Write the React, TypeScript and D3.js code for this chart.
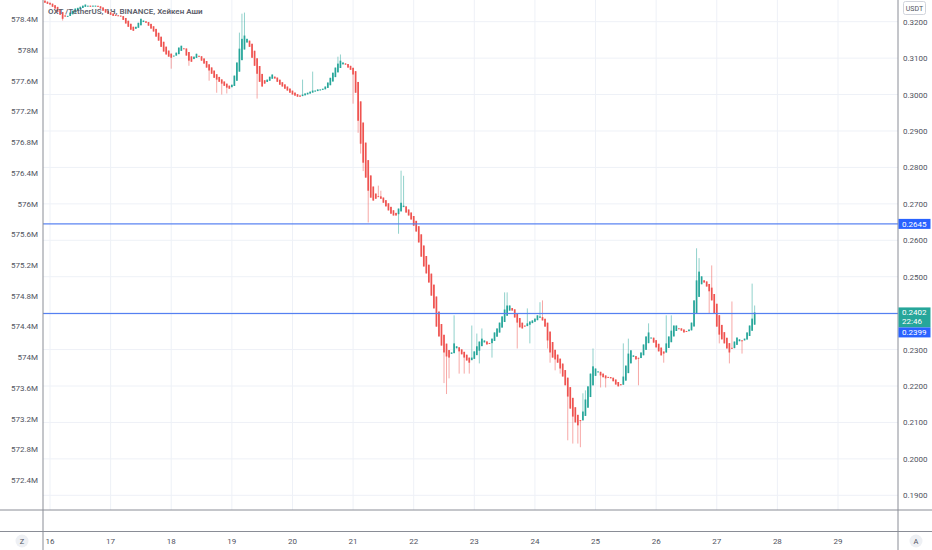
import React from 'react';
import * as d3 from 'd3';

// ---------- DATA ----------
const title = 'OXT /TetherUS, 1Ч, BINANCE, Хейкен Аши';
const currency = 'USDT';
const dayLabels = ['16', '17', '18', '19', '20', '21', '22', '23', '24', '25', '26', '27', '28', '29'];
// first candle is 2 hours before day 16 00:00 (hourly candles)
const firstHourOffset = -2;
const firstOpen = 0.3258;

// Heikin Ashi close per hourly candle
const haCloses = [
  0.3252, 0.3249, 0.3247, 0.3241, 0.3236, 0.3227, 0.3219, 0.3208, 0.3214, 0.3216,
  0.3225, 0.3230, 0.3236, 0.3238, 0.3241, 0.3244, 0.3247, 0.3244, 0.3241, 0.3244,
  0.3244, 0.3241, 0.3236, 0.3230, 0.3225, 0.3222, 0.3219, 0.3216, 0.3216, 0.3216,
  0.3214, 0.3205, 0.3195, 0.3186, 0.3178, 0.3175, 0.3186, 0.3197, 0.3208, 0.3203,
  0.3197, 0.3189, 0.3181, 0.3173, 0.3159, 0.3148, 0.3131, 0.3118, 0.3110, 0.3104,
  0.3101, 0.3107, 0.3115, 0.3129, 0.3134, 0.3126, 0.3107, 0.3093, 0.3090, 0.3104,
  0.3112, 0.3104, 0.3093, 0.3085, 0.3074, 0.3066, 0.3057, 0.3046, 0.3041, 0.3035,
  0.3030, 0.3024, 0.3019, 0.3016, 0.3027, 0.3052, 0.3088, 0.3126, 0.3153, 0.3162,
  0.3153, 0.3131, 0.3101, 0.3079, 0.3057, 0.3035, 0.3022, 0.3030, 0.3041, 0.3049,
  0.3055, 0.3044, 0.3035, 0.3027, 0.3022, 0.3016, 0.3011, 0.3005, 0.3000, 0.2997,
  0.2994, 0.2994, 0.3000, 0.3003, 0.3005, 0.3008, 0.3011, 0.3011, 0.3014, 0.3014,
  0.3016, 0.3022, 0.3033, 0.3046, 0.3060, 0.3074, 0.3085, 0.3093, 0.3088, 0.3082,
  0.3074, 0.3068, 0.3055, 0.3005, 0.2928, 0.2865, 0.2813, 0.2772, 0.2736, 0.2717,
  0.2709, 0.2714, 0.2720, 0.2714, 0.2703, 0.2693, 0.2682, 0.2673, 0.2668, 0.2668,
  0.2687, 0.2703, 0.2695, 0.2676, 0.2668, 0.2657, 0.2640, 0.2624, 0.2594, 0.2555,
  0.2528, 0.2509, 0.2484, 0.2448, 0.2413, 0.2363, 0.2336, 0.2311, 0.2292, 0.2281,
  0.2278, 0.2292, 0.2317, 0.2309, 0.2295, 0.2287, 0.2278, 0.2270, 0.2264, 0.2278,
  0.2295, 0.2309, 0.2322, 0.2330, 0.2325, 0.2314, 0.2317, 0.2330, 0.2347, 0.2358,
  0.2374, 0.2391, 0.2410, 0.2421, 0.2421, 0.2407, 0.2388, 0.2374, 0.2361, 0.2358,
  0.2363, 0.2372, 0.2377, 0.2380, 0.2385, 0.2394, 0.2391, 0.2380, 0.2363, 0.2325,
  0.2292, 0.2278, 0.2273, 0.2264, 0.2248, 0.2226, 0.2202, 0.2171, 0.2138, 0.2116,
  0.2100, 0.2092, 0.2105, 0.2130, 0.2163, 0.2199, 0.2234, 0.2254, 0.2248, 0.2240,
  0.2229, 0.2224, 0.2221, 0.2224, 0.2221, 0.2213, 0.2204, 0.2199, 0.2202, 0.2226,
  0.2256, 0.2289, 0.2298, 0.2284, 0.2273, 0.2276, 0.2292, 0.2314, 0.2336, 0.2347,
  0.2333, 0.2319, 0.2306, 0.2295, 0.2284, 0.2289, 0.2317, 0.2336, 0.2352, 0.2366,
  0.2366, 0.2358, 0.2352, 0.2347, 0.2350, 0.2355, 0.2374, 0.2435, 0.2490, 0.2514,
  0.2501, 0.2484, 0.2473, 0.2460, 0.2435, 0.2399, 0.2363, 0.2341, 0.2328, 0.2317,
  0.2303, 0.2292, 0.2303, 0.2322, 0.2333, 0.2328, 0.2325, 0.2330, 0.2347, 0.2366,
  0.2385, 0.2402,
];

// notable wick extremes: [candle index, price]
const wickHighs: [number, number][] = [
  [77, 0.3170], [78, 0.3222], [79, 0.3225], [102, 0.3041], [106, 0.3063], [116, 0.3104],
  [117, 0.3110], [132, 0.2750], [133, 0.2736], [141, 0.2791], [142, 0.2777], [162, 0.2394],
  [169, 0.2366], [171, 0.2344], [173, 0.2358], [182, 0.2457], [183, 0.2457], [191, 0.2413],
  [196, 0.2430], [197, 0.2435], [213, 0.2180], [214, 0.2188], [217, 0.2303], [229, 0.2317],
  [231, 0.2330], [239, 0.2372], [246, 0.2394], [248, 0.2394], [258, 0.2578], [259, 0.2551],
  [264, 0.2531], [272, 0.2432], [280, 0.2481], [281, 0.2421],
];
const wickLows: [number, number][] = [
  [7, 0.3203], [50, 0.3071], [57, 0.3079], [65, 0.3038], [68, 0.3005], [70, 0.3000],
  [72, 0.3003], [84, 0.2989], [122, 0.2975], [124, 0.2895], [125, 0.2838], [126, 0.2790],
  [128, 0.2649], [140, 0.2618], [148, 0.2599], [158, 0.2208], [159, 0.2178], [160, 0.2221],
  [164, 0.2234], [166, 0.2234], [168, 0.2234], [172, 0.2262], [177, 0.2278], [187, 0.2303],
  [192, 0.2317], [199, 0.2303], [200, 0.2264], [202, 0.2243], [204, 0.2234], [207, 0.2051],
  [209, 0.2042], [211, 0.2042], [212, 0.2032], [220, 0.2196], [222, 0.2196], [235, 0.2202],
  [245, 0.2264], [263, 0.2399], [267, 0.2317], [271, 0.2262], [276, 0.2289],
];

const priceTicks = [0.32, 0.31, 0.30, 0.29, 0.28, 0.27, 0.26, 0.25, 0.24, 0.23, 0.22, 0.21, 0.20, 0.19];
const hiddenPriceLabels = [0.24];
const leftTicks = [578.4, 578.0, 577.6, 577.2, 576.8, 576.4, 576.0, 575.6, 575.2, 574.8, 574.4, 574.0, 573.6, 573.2, 572.8, 572.4];
const levelLines = [0.2645, 0.2399];
const lastPrice = 0.2402;
const countdown = '22:46';

// ---------- STYLE ----------
const W = 932;
const H = 550;
const UP = '#26a69a';
const DOWN = '#ef5350';
const BLUE = '#2962ff';
const LEVEL = '#5580f2';
const FONT = 'Roboto, "Noto Sans", sans-serif';
const TEXT = '#50535e';
const GRID = '#eef1f7';
const BORDER = '#8a8d96';

const plotLeft = 43;
const plotRight = 898;
const plotBottom = 510;
const paneBottom = 531.5;

export default function App() {
  const x = d3.scaleLinear().domain([0, 13 * 24]).range([50, 838]);
  const y = d3.scaleLinear().domain([0.19, 0.32]).range([495.3, 21.7]);
  const yLeft = d3.scaleLinear().domain([572.4, 578.4]).range([480, 19.3]);

  const hiMap = new Map(wickHighs);
  const loMap = new Map(wickLows);
  const candles: { i: number; o: number; c: number; h: number; l: number }[] = [];
  let po = firstOpen;
  let pc = firstOpen;
  haCloses.forEach((c, i) => {
    const o = i === 0 ? firstOpen : (po + pc) / 2;
    const h = Math.max(o, c, hiMap.get(i) ?? -Infinity);
    const l = Math.min(o, c, loMap.get(i) ?? Infinity);
    candles.push({ i, o, c, h, l });
    po = o;
    pc = c;
  });

  const bodyW = 1.7;
  const leftFmt = (v: number) => `${+v.toFixed(1)}M`;

  return (
    <svg width={W} height={H} style={{ position: 'absolute', left: 0, top: 0, background: '#fff' }} fontFamily={FONT}>
      <defs>
        <clipPath id="plot">
          <rect x={plotLeft} y={0} width={plotRight - plotLeft} height={plotBottom} />
        </clipPath>
      </defs>
      <rect width={W} height={H} fill="#fff" />
      {/* grid */}
      <g>
        {priceTicks.map((t) => (
          <line key={'h' + t} x1={plotLeft} x2={plotRight} y1={y(t)} y2={y(t)} stroke={GRID} strokeWidth={1} />
        ))}
        {dayLabels.map((d, k) => (
          <line key={'v' + d} x1={x(k * 24)} x2={x(k * 24)} y1={0} y2={plotBottom} stroke={GRID} strokeWidth={1} />
        ))}
      </g>
      {/* candles */}
      <g clipPath="url(#plot)">
        {candles.map((cd) => {
          const cx = x(cd.i + firstHourOffset);
          const col = cd.c >= cd.o ? UP : DOWN;
          const top = y(Math.max(cd.o, cd.c));
          const bot = y(Math.min(cd.o, cd.c));
          return (
            <g key={cd.i}>
              <line x1={cx} x2={cx} y1={y(cd.h)} y2={y(cd.l)} stroke={col} strokeOpacity={0.5} strokeWidth={1} />
              <rect x={cx - bodyW / 2} y={top} width={bodyW} height={Math.max(1, bot - top)} fill={col} />
            </g>
          );
        })}
      </g>
      {/* horizontal level lines */}
      {levelLines.map((lv) => (
        <rect key={'lv' + lv} x={plotLeft} y={y(lv) - 0.6} width={plotRight - plotLeft} height={1.2} fill={LEVEL} />
      ))}
      {/* title */}
      <text x={48} y={14} fontSize={8} fontWeight={600} fill="#5d606b">{title}</text>
      {/* borders */}
      <line x1={0} x2={W} y1={plotBottom} y2={plotBottom} stroke={BORDER} strokeWidth={1} />
      <line x1={0} x2={W} y1={paneBottom} y2={paneBottom} stroke={BORDER} strokeWidth={1} />
      <line x1={plotLeft} x2={plotLeft} y1={0} y2={H} stroke={BORDER} strokeWidth={1} />
      <line x1={plotRight} x2={plotRight} y1={0} y2={H} stroke={BORDER} strokeWidth={1} />
      {/* left axis */}
      {leftTicks.map((t) => (
        <text key={'l' + t} x={38} y={yLeft(t) + 3} fontSize={8} fill={TEXT} textAnchor="end">{leftFmt(t)}</text>
      ))}
      {/* right axis */}
      {priceTicks.filter((t) => !hiddenPriceLabels.includes(t)).map((t) => (
        <text key={'r' + t} x={903} y={y(t) + 3} fontSize={8} fill={TEXT}>{t.toFixed(4)}</text>
      ))}
      {/* currency box */}
      <rect x={903.5} y={1.5} width={22} height={13} rx={2} fill="#fff" stroke="#d1d4dc" />
      <text x={914.5} y={11} fontSize={7} fill={TEXT} textAnchor="middle">{currency}</text>
      {/* price labels */}
      <rect x={898.5} y={y(levelLines[0]) - 5} width={32} height={10} fill={BLUE} />
      <text x={902} y={y(levelLines[0]) + 3} fontSize={8} fill="#fff">{levelLines[0].toFixed(4)}</text>
      <rect x={898.5} y={y(lastPrice) - 5} width={32} height={20} fill={UP} />
      <text x={902} y={y(lastPrice) + 3} fontSize={8} fill="#fff">{lastPrice.toFixed(4)}</text>
      <text x={902} y={y(lastPrice) + 12} fontSize={8} fill="#fff">{countdown}</text>
      <rect x={898.5} y={y(lastPrice) + 15} width={32} height={10} fill={BLUE} />
      <text x={902} y={y(lastPrice) + 23} fontSize={8} fill="#fff">{levelLines[1].toFixed(4)}</text>
      {/* time axis */}
      {dayLabels.map((d, k) => (
        <text key={'d' + d} x={x(k * 24)} y={544} fontSize={8} fill={TEXT} textAnchor="middle">{d}</text>
      ))}
      {/* buttons */}
      <circle cx={22} cy={541} r={6.5} fill="#eef0f4" />
      <text x={22} y={544} fontSize={7.5} fill={TEXT} textAnchor="middle">Z</text>
      <circle cx={916} cy={541} r={6.5} fill="#eef0f4" />
      <text x={916} y={544} fontSize={7.5} fill={TEXT} textAnchor="middle">A</text>
    </svg>
  );
}
